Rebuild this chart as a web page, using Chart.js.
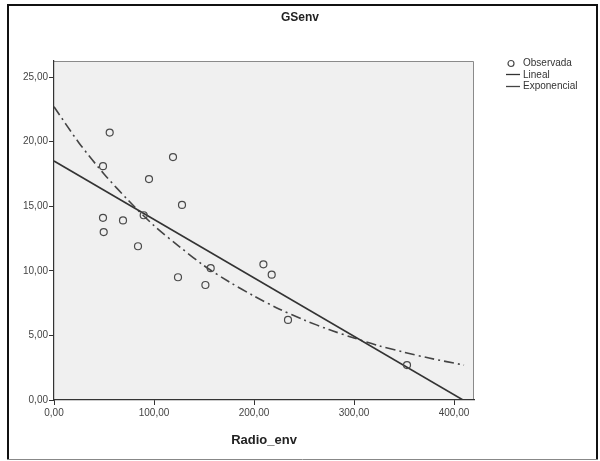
<!DOCTYPE html>
<html>
<head>
<meta charset="utf-8">
<script src="https://cdn.jsdelivr.net/npm/chart.js@4"></script>
<style>
  html, body { margin: 0; padding: 0; background: #fff; }
  #wrap { position: relative; width: 600px; height: 461px; }
  #legend {
    position: absolute; left: 506px; top: 57px;
    font: 10px "Liberation Sans", Arial, sans-serif; color: #333;
  }
  #legend div { height: 11.5px; line-height: 11.5px; white-space: nowrap; }
  #legend svg { vertical-align: middle; margin-right: 3px; }
</style>
</head>
<body>
<div id="wrap">
  <canvas id="chart" width="600" height="461"></canvas>
  <div id="legend"></div>
</div>
<script>
'use strict';

const radioEnv = [55.7, 49, 119, 95, 128, 49, 69, 89.7, 49.7, 84, 209.4, 217.7, 156.7, 124, 151.4, 234, 353];
const gsEnv = [20.7, 18.1, 18.8, 17.1, 15.1, 14.1, 13.9, 14.3, 13.0, 11.9, 10.5, 9.7, 10.2, 9.5, 8.9, 6.2, 2.7];

// fitted lines, values
const linealX = [0, 409];
const linealY = [18.5, 0];
const expX = [0, 25, 50, 75, 100, 125, 150, 175, 200, 225, 250, 275, 300, 325, 350, 375, 410];
const expY = [22.7, 19.9, 17.5, 15.4, 13.5, 11.9, 10.4, 9.15, 8.05, 7.05, 6.2, 5.45, 4.8, 4.2, 3.7, 3.25, 2.7];

const legendLabels = ['Observada', 'Lineal', 'Exponencial'];
const expDash = [10, 4, 2, 4];

const fmt = (v) => Number(v).toFixed(2).replace('.', ',');
const toPoints = (xs, ys) => xs.map((x, i) => ({ x, y: ys[i] }));

const plotFrame = {
  id: 'plotFrame',
  beforeDraw(chart) {
    const { ctx, chartArea: a } = chart;
    ctx.save();
    ctx.fillStyle = '#ffffff';
    ctx.fillRect(0, 0, chart.width, chart.height);
    ctx.fillStyle = '#f0f0f0';
    ctx.fillRect(a.left, a.top, a.right - a.left, a.bottom - a.top);
    ctx.strokeStyle = '#8a8a8a';
    ctx.lineWidth = 1;
    ctx.beginPath();
    ctx.moveTo(a.left, a.top + 0.5);
    ctx.lineTo(a.right - 0.5, a.top + 0.5);
    ctx.lineTo(a.right - 0.5, a.bottom);
    ctx.stroke();
    ctx.restore();
  },
  afterDraw(chart) {
    const { ctx } = chart;
    ctx.save();
    ctx.strokeStyle = '#111';
    ctx.lineWidth = 2;
    ctx.beginPath();
    ctx.moveTo(8, 460);
    ctx.lineTo(8, 5);
    ctx.lineTo(597, 5);
    ctx.lineTo(597, 460);
    ctx.stroke();
    ctx.strokeStyle = '#888';
    ctx.lineWidth = 1;
    ctx.beginPath();
    ctx.moveTo(7, 459.5);
    ctx.lineTo(598, 459.5);
    ctx.stroke();
    ctx.restore();
  },
};

const tickFont = { family: '"Liberation Sans", Arial, sans-serif', size: 10 };

new Chart(document.getElementById('chart'), {
  type: 'scatter',
  data: {
    datasets: [
      {
        label: legendLabels[0],
        data: toPoints(radioEnv, gsEnv),
        pointStyle: 'circle',
        pointRadius: 3.5,
        pointBorderWidth: 1.2,
        pointBorderColor: '#4a4a4a',
        pointBackgroundColor: 'rgba(0,0,0,0)',
        showLine: false,
      },
      {
        label: legendLabels[1],
        data: toPoints(linealX, linealY),
        showLine: true,
        borderColor: '#333',
        borderWidth: 1.6,
        pointRadius: 0,
      },
      {
        label: legendLabels[2],
        data: toPoints(expX, expY),
        showLine: true,
        borderColor: '#444',
        borderWidth: 1.6,
        borderDash: expDash,
        tension: 0.3,
        pointRadius: 0,
      },
    ],
  },
  options: {
    responsive: false,
    animation: false,
    layout: { padding: { left: 0, right: 0, top: 0, bottom: 13 } },
    plugins: {
      legend: { display: false },
      tooltip: { enabled: false },
      title: {
        display: true,
        text: 'GSenv',
        color: '#222',
        font: { family: '"Liberation Sans", Arial, sans-serif', size: 12, weight: 'bold' },
        padding: { top: 10, bottom: 36.6 },
      },
    },
    scales: {
      x: {
        type: 'linear',
        min: 0,
        max: 420,
        afterFit: (scale) => { scale.height = 48; },
        afterBuildTicks: (scale) => { scale.ticks = scale.ticks.filter((t) => t.value % 100 === 0); },
        ticks: {
          stepSize: 100,
          includeBounds: false,
          maxRotation: 0,
          color: '#444',
          font: tickFont,
          padding: 2,
          callback: (v) => fmt(v),
        },
        grid: { display: true, drawOnChartArea: false, drawTicks: true, tickLength: 5, color: '#333' },
        border: { display: true, color: '#333', width: 1.2 },
        title: {
          display: true,
          text: 'Radio_env',
          color: '#222',
          font: { family: '"Liberation Sans", Arial, sans-serif', size: 13, weight: 'bold' },
          padding: { top: 0, bottom: 0 },
        },
      },
      y: {
        type: 'linear',
        min: 0,
        max: 26.24,
        afterFit: (scale) => { scale.width = 54; },
        afterBuildTicks: (scale) => { scale.ticks = scale.ticks.filter((t) => t.value % 5 === 0); },
        ticks: {
          stepSize: 5,
          includeBounds: false,
          color: '#444',
          font: tickFont,
          padding: 1,
          callback: (v) => fmt(v),
        },
        grid: { display: true, drawOnChartArea: false, drawTicks: true, tickLength: 5, color: '#333' },
        border: { display: true, color: '#333', width: 1.2 },
      },
      // empty right-hand strip that holds the legend space, so the title centres on the whole canvas
      legendSpace: {
        type: 'linear',
        position: 'right',
        afterFit: (scale) => { scale.width = 126; },
        ticks: { display: false },
        grid: { display: false },
        border: { display: false },
      },
    },
  },
  plugins: [plotFrame],
});

// legend drawn as html so it can sit where the reference puts it
const legendEl = document.getElementById('legend');
const glyphs = [
  '<svg width="14" height="9"><circle cx="5" cy="4.5" r="3" fill="none" stroke="#4a4a4a" stroke-width="1.2"/></svg>',
  '<svg width="14" height="9"><line x1="0" y1="4.5" x2="14" y2="4.5" stroke="#333" stroke-width="1.3"/></svg>',
  '<svg width="14" height="9"><line x1="0" y1="4.5" x2="14" y2="4.5" stroke="#444" stroke-width="1.3"/></svg>',
];
legendEl.innerHTML = legendLabels
  .map((txt, i) => `<div>${glyphs[i]}${txt}</div>`)
  .join('');
</script>
</body>
</html>
